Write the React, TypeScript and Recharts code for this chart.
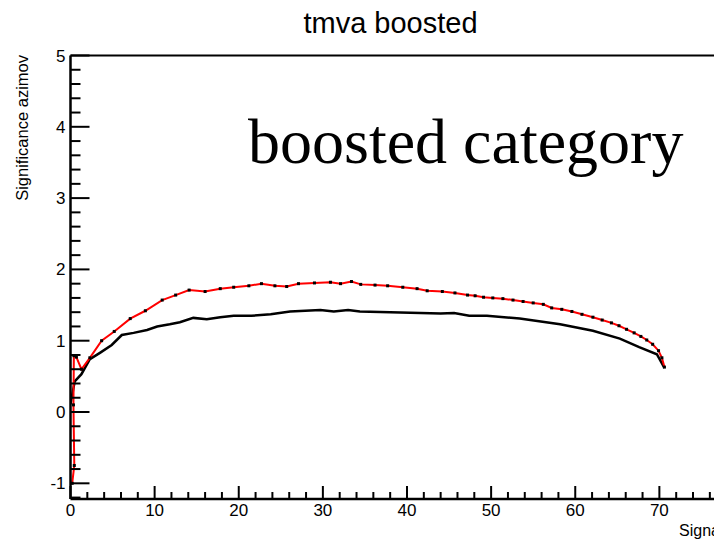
import React from 'react';
import { LineChart, Line, XAxis, YAxis, ReferenceLine } from 'recharts';

// black curve (no markers)
const blackX = [0, 0.5, 1.3, 2.3, 3.5, 4.9, 6.1, 7.5, 9.1, 10.3, 11.8, 13.0, 14.6, 16.2, 17.8, 19.4, 21.5, 23.8, 26.1, 29.7, 31.3, 33.0, 34.4, 38.0, 41.6, 44.0, 45.6, 47.4, 49.5, 53.4, 58.2, 62.1, 65.3, 67.6, 69.7, 70.6];
const blackY = [0.11, 0.43, 0.53, 0.74, 0.83, 0.94, 1.08, 1.11, 1.15, 1.2, 1.23, 1.26, 1.32, 1.3, 1.33, 1.35, 1.35, 1.37, 1.41, 1.43, 1.41, 1.43, 1.41, 1.4, 1.39, 1.38, 1.39, 1.35, 1.35, 1.31, 1.23, 1.14, 1.03, 0.91, 0.81, 0.62];

// red curve (black square markers)
const redX = [0.2, 0.45, 0.35, 0.4, 0.7, 1.3, 2.3, 3.7, 5.2, 7.1, 8.9, 10.9, 12.5, 14.1, 16.0, 17.8, 19.4, 21.2, 22.7, 24.3, 25.7, 27.1, 29.0, 30.9, 32.1, 33.4, 34.5, 36.2, 37.7, 39.5, 41.2, 42.4, 44.2, 45.7, 47.2, 48.1, 49.1, 50.2, 51.4, 52.6, 53.8, 55.0, 56.2, 57.2, 58.4, 59.6, 60.8, 62.1, 63.2, 64.3, 65.2, 66.1, 67.0, 67.8, 68.5, 69.2, 69.9, 70.3, 70.6];
const redY = [-1.0, -0.75, 0.1, 0.79, 0.77, 0.6, 0.76, 1.0, 1.13, 1.31, 1.42, 1.57, 1.64, 1.71, 1.69, 1.73, 1.75, 1.77, 1.8, 1.77, 1.76, 1.8, 1.81, 1.82, 1.8, 1.83, 1.79, 1.78, 1.77, 1.75, 1.73, 1.7, 1.69, 1.67, 1.64, 1.63, 1.61, 1.6, 1.59, 1.57, 1.55, 1.53, 1.51, 1.46, 1.44, 1.41, 1.37, 1.33, 1.29, 1.25, 1.21, 1.16, 1.11, 1.06, 1.01, 0.95, 0.86, 0.76, 0.63];

const xMajor = [0, 10, 20, 30, 40, 50, 60, 70, 80];
const xLabels = [0, 10, 20, 30, 40, 50, 60, 70];
const yMajor = [-1, 0, 1, 2, 3, 4, 5];

// minor ticks: x every 2, y every 0.2
const xTicks = Array.from({ length: 41 }, (_, i) => i * 2);
const yTicks = Array.from({ length: 32 }, (_, i) => Math.round((-1.2 + i * 0.2) * 10) / 10);

const blackData = blackX.map((x, i) => ({ x, y: blackY[i] }));
const redData = redX.map((x, i) => ({ x, y: redY[i] }));

const sans = "'Liberation Sans', Arial, Helvetica, sans-serif";

const XTick = (props: any) => {
  const { x, y, payload } = props;
  const major = xMajor.includes(payload.value);
  return (
    <g>
      <line x1={x} y1={y} x2={x} y2={y - (major ? 13 : 7)} stroke="#000" strokeWidth={2} />
      {xLabels.includes(payload.value) && (
        <text x={x} y={y + 17} textAnchor="middle" fontSize={17} fontFamily={sans} fill="#000">
          {payload.value}
        </text>
      )}
    </g>
  );
};

const YTick = (props: any) => {
  const { x, y, payload } = props;
  const major = yMajor.some((v) => Math.abs(v - payload.value) < 1e-6);
  return (
    <g>
      <line x1={x} y1={y} x2={x + (major ? 19 : 10)} y2={y} stroke="#000" strokeWidth={2} />
      {major && (
        <text x={x - 5} y={y + 6} textAnchor="end" fontSize={17} fontFamily={sans} fill="#000">
          {payload.value}
        </text>
      )}
    </g>
  );
};

const Marker = (props: any) => {
  const { cx, cy, index } = props;
  if (cx == null || cy == null) return <g key={index} />;
  return <rect key={index} x={cx - 1.5} y={cy - 1.5} width={3} height={3} fill="#000" />;
};

export default function App() {
  return (
    <div style={{ width: 714, height: 531, overflow: 'hidden', background: '#fff' }}>
      <LineChart width={760} height={531} margin={{ top: 47.5, left: 61.5, right: 24.5, bottom: 39 }}>
        <XAxis
          dataKey="x"
          type="number"
          domain={[0, 80]}
          ticks={xTicks}
          interval={0}
          height={1}
          tickSize={0}
          tickMargin={0}
          tick={<XTick />}
          axisLine={{ stroke: '#000', strokeWidth: 2.5 }}
          allowDataOverflow
        />
        <YAxis
          type="number"
          domain={[-1.22, 5]}
          ticks={yTicks}
          interval={0}
          width={1}
          tickSize={0}
          tickMargin={0}
          tick={<YTick />}
          axisLine={{ stroke: '#000', strokeWidth: 2.5 }}
          allowDataOverflow
        />
        <ReferenceLine y={5} stroke="#000" strokeWidth={2} />
        <Line
          data={blackData}
          dataKey="y"
          type="linear"
          stroke="#000"
          strokeWidth={2.5}
          dot={false}
          isAnimationActive={false}
        />
        <Line
          data={redData}
          dataKey="y"
          type="linear"
          stroke="#ff0000"
          strokeWidth={2}
          dot={<Marker />}
          activeDot={false}
          isAnimationActive={false}
        />
        <text x={382.5} y={25} textAnchor="middle" fontSize={29} fontFamily={sans} fill="#000">
          tmva boosted
        </text>
        <text x={240} y={155} fontSize={64} fontFamily="'Liberation Serif', 'Times New Roman', serif" fill="#000">
          boosted category
        </text>
        <text
          x={19.5}
          y={47}
          transform="rotate(-90 19.5 47)"
          textAnchor="end"
          fontSize={16.5}
          fontFamily={sans}
          fill="#000"
        >
          Significance azimov
        </text>
        <text x={671} y={528} fontSize={16} fontFamily={sans} fill="#000">
          Signal efficiency
        </text>
      </LineChart>
    </div>
  );
}
